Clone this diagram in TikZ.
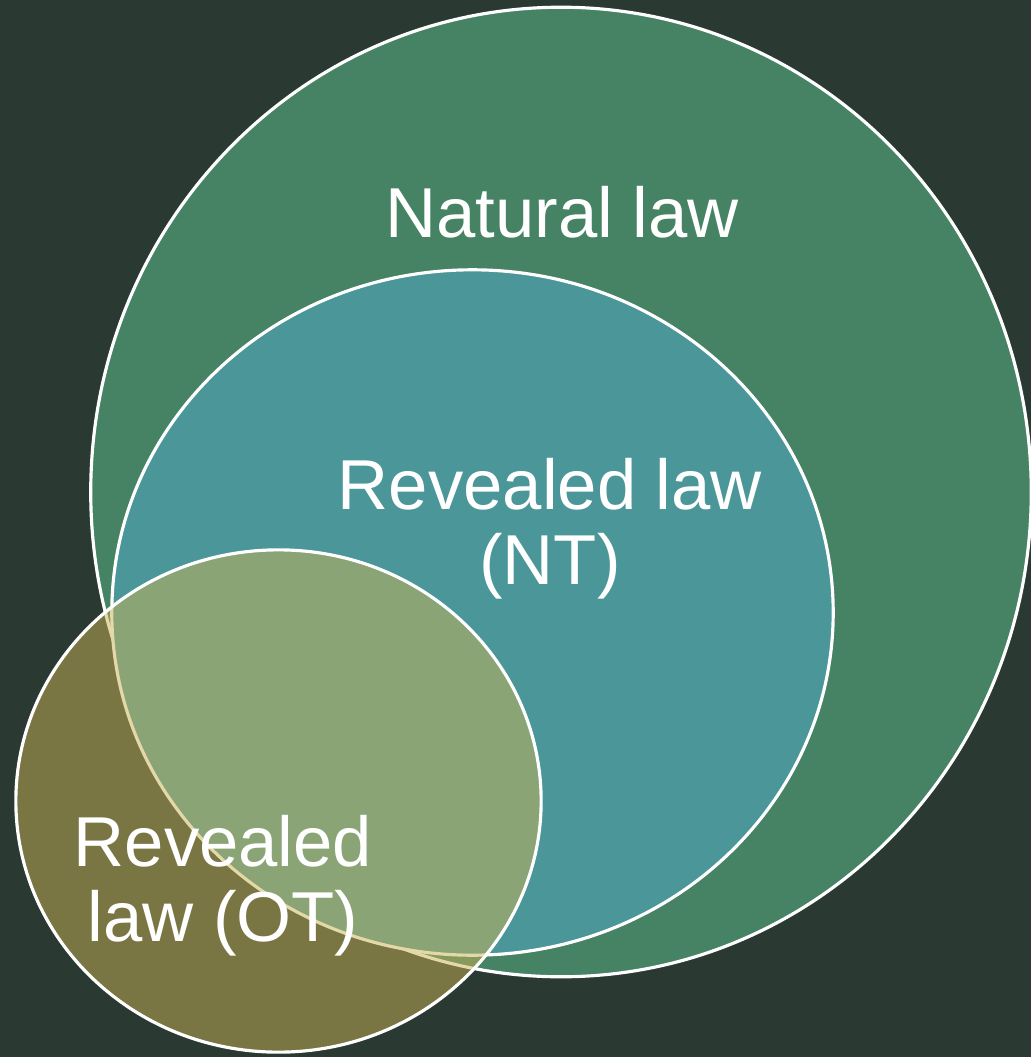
\documentclass[tikz,border=0pt]{standalone}
\usepackage{fontspec}
\setmainfont{Liberation Sans}
\usetikzlibrary{shapes.geometric}
\definecolor{bgDark}{RGB}{42, 58, 50}
\definecolor{naturalGreen}{RGB}{70, 130, 100}
\definecolor{newTeal}{RGB}{74, 150, 153}
\definecolor{oldOlive}{RGB}{202, 178, 84}
\tikzset{
    % Base Set Style
    lawSet/.style={
        ellipse,
        inner sep=0pt,
        outer sep=0pt,
        draw=white,
        line width=0.9pt
    },
    % Specific Set Styles
    setNatural/.style={lawSet, fill=naturalGreen, minimum width=9.40cm, minimum height=9.69cm},
    setNT/.style={lawSet, fill=newTeal, minimum width=7.21cm, minimum height=6.85cm},
    setOT/.style={lawSet, fill=oldOlive, fill opacity=0.5, draw opacity=1, minimum width=5.25cm, minimum height=5.02cm},
    % Label Style
    setLabel/.style={text=white, align=center, inner sep=0pt, font=\fontsize{20.1pt}{21.3pt}\selectfont}
}

\begin{document}
\begin{tikzpicture}[x=0.01cm, y=-0.01cm]

    % --- Background ---
    \fill [bgDark] (0,0) rectangle (1031,1057);

    % --- Sets ---
    \node (natural) [setNatural] at (561,492) {};
    \node (nt) [setNT] at (472.5,612.5) {};
    \node (ot) [setOT] at (278.5,801) {};

    % --- Labels (anchored at the baseline of the last line) ---
    \node (naturalLabel) [setLabel, anchor=base] at (562,237) {Natural law};
    \node (ntLabel) [setLabel, anchor=base] at (550,584) {Revealed law\\(NT)};
    \node (otLabel) [setLabel, anchor=base] at (223,941) {Revealed\\law (OT)};

\end{tikzpicture}
\end{document}
